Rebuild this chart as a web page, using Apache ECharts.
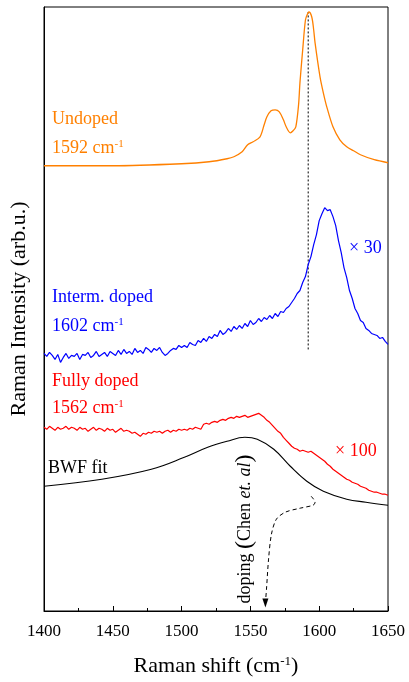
<!DOCTYPE html>
<html><head><meta charset="utf-8">
<script src="https://cdn.jsdelivr.net/npm/echarts@6/dist/echarts.min.js"></script>
<style>html,body{margin:0;padding:0;background:#fff}#c{width:409px;height:682px}</style>
</head><body><div id="c"></div>
<script>
// ---- data (x in cm^-1, y in arbitrary stacked units) ----
const undopedX = [1400,1450,1500,1520,1533,1538,1544,1548,1552,1557,1560,1562,1565,1568,1571,1574,1576,1579,1581,1583,1585,1586,1588,1590,1591.5,1592.5,1594.6,1596,1597,1600.6,1603,1605.5,1610,1615,1620,1625,1630,1640,1650];
const undopedY = [446,446,448,450,453,455,460,467,470,475,487,495,501,502,500,492,485,479,481,485,507,529,562,592,598,600,595,582,569,535,519,505,485,472,465,461,457,452,449];

const stepX = Array.from({length:126},(_,i)=>1400+2*i); // 1400..1650 sampled every 2 cm^-1
const intermY = [258,255,259,256,252,257,249,254,258,253,256,
 255,258,252,257,256,259,254,256,260,255,
 257,259,255,260,258,256,261,257,262,258,
 260,257,263,259,261,258,264,262,259,263,
 261,264,259,256,258,261,263,262,266,264,
 266,264,269,267,266,271,269,273,270,275,
 273,277,275,281,277,279,283,280,285,282,
 286,283,288,285,291,287,289,293,290,294,
 292,296,293,298,295,300,299,303,305,309,
 313,318,321,329,335,347,355,367,377,391,
 398,404,401,402,395,386,371,359,344,334,
 321,313,303,298,291,289,283,281,278,277,
 276,273,274,270,267];
const fullyY = [184,182,185,183,181,184,182,183,185,182,184,
 183,181,184,182,183,180,182,184,181,183,
 182,180,183,181,182,179,181,183,180,181,
 180,178,179,177,175,178,177,179,178,180,
 179,180,178,180,181,179,181,180,182,181,
 182,181,183,182,184,183,182,187,188,187,
 189,190,189,191,192,191,193,194,193,195,
 194,195,196,194,195,196,197,198,196,194,
 191,189,186,183,180,178,174,171,168,165,
 163,162,160,161,160,159,160,158,156,154,
 152,150,147,145,142,140,138,136,134,132,
 131,129,128,127,125,124,123,121,120,119,
 119,118,117,117,116];

const bwfX = [1400,1442,1478,1502,1519,1533,1546,1555,1567,1579,1591,1603,1620,1634,1650];
const bwfY = [125,132,142,154,164,170,174,172,162,145,130,120,112,109,106];

const refLineX = [1592,1592];
const refLineY = [262,600];

const arrowX = [1594.1,1597.0,1595.6,1586.2,1575.4,1568.9,1565.3,1563.2,1561.7,1560.9];
const arrowY = [115,109,106,103,99,92,77,52,22,8];

const xTicks = {min:1400,max:1650,interval:50};

const zip = (xs, ys) => xs.map((x,i)=>[x, ys[i]]);
const FONT = '"Liberation Serif","Times New Roman",serif';
const ORANGE = '#ff8000', BLUE = '#0000ff', RED = '#ff0000';

const chart = echarts.init(document.getElementById('c'), null, {renderer:'canvas'});
function label(text, x, y, color, size) {
  return {
    type: 'text', x: x, y: y, silent: true,
    style: {text: text, fill: color, fontFamily: FONT, fontSize: size, verticalAlign: 'middle', align: 'left',
      lineHeight: size,
      rich: {
        sup: {fontSize: Math.round(size*0.6), fontFamily: FONT, fill: color, verticalAlign: 'top', lineHeight: Math.round(size*0.45)}
      }}
  };
}

const arrowData = zip(arrowX, arrowY).map((p,i,a)=> i===a.length-1 ? {value:p, symbol:'triangle', symbolSize:[6,9], symbolRotate:180} : p);

chart.setOption({
  animation: false,
  backgroundColor: '#fff',
  grid: {left: 42, right: 21, top: 7, bottom: 70, show: true, borderColor: '#000', borderWidth: 1},
  xAxis: {
    type: 'value', min: xTicks.min, max: xTicks.max, interval: xTicks.interval,
    axisLine: {show: true, onZero: false, lineStyle: {color: '#000', width: 1}},
    axisTick: {show: true, inside: true, length: 5, lineStyle: {color: '#000'}},
    minorTick: {show: true, splitNumber: 2, length: 3, lineStyle: {color: '#000'}},
    splitLine: {show: false},
    axisLabel: {color: '#000', fontFamily: FONT, fontSize: 17, margin: 12, formatter: v => String(v)},
    name: 'Raman shift (cm{sup|-1})',
    nameLocation: 'middle', nameGap: 44,
    nameTextStyle: {color: '#000', fontFamily: FONT, fontSize: 22, lineHeight: 22,
      rich: {sup: {fontSize: 13, fontFamily: FONT, color: '#000', verticalAlign: 'top', lineHeight: 10}}}
  },
  yAxis: {
    type: 'value', min: 0, max: 605,
    axisLine: {show: true, lineStyle: {color: '#000'}},
    axisTick: {show: false}, axisLabel: {show: false}, splitLine: {show: false},
    name: 'Raman Intensity (arb.u.)', nameLocation: 'middle', nameGap: 14,
    nameTextStyle: {color: '#000', fontFamily: FONT, fontSize: 22}
  },
  series: [
    {type:'line', data: zip(undopedX, undopedY), showSymbol:false, smooth:0.3, lineStyle:{color:ORANGE, width:1.3}, z:3},
    {type:'line', data: zip(stepX, intermY), showSymbol:false, lineStyle:{color:BLUE, width:1.2}, z:3},
    {type:'line', data: zip(stepX, fullyY), showSymbol:false, lineStyle:{color:RED, width:1.2}, z:3},
    {type:'line', data: zip(bwfX, bwfY), showSymbol:false, smooth:0.4, lineStyle:{color:'#000', width:1.1}, z:3},
    {type:'line', data: zip(refLineX, refLineY), showSymbol:false, lineStyle:{color:'#000', width:1, type:[2,2]}, z:2},
    {type:'line', data: arrowData, symbol:'none', smooth:0.3, itemStyle:{color:'#000'},
      lineStyle:{color:'#000', width:1, type:[4,3]}, z:2}
  ],
  graphic: [
    label('Undoped', 52, 119, ORANGE, 18),
    label('1592 cm{sup|-1}', 52, 148, ORANGE, 18),
    label('Interm. doped', 52, 297, BLUE, 18),
    label('1602 cm{sup|-1}', 52, 326, BLUE, 18),
    label('\u00d7 30', 349, 248, BLUE, 18),
    label('Fully doped', 52, 381, RED, 18),
    label('1562 cm{sup|-1}', 52, 408, RED, 18),
    label('\u00d7 100', 335, 451, RED, 18),
    label('BWF fit', 48, 468, '#000', 18),
    {
      type: 'text', x: 245, y: 529, rotation: Math.PI/2, silent: true,
      style: {text: 'doping {p|(}Chen {i|et. al}{p|)}', fill: '#000', fontFamily: FONT, fontSize: 18,
        align: 'center', verticalAlign: 'middle',
        rich: {p: {fontSize: 24, fontFamily: FONT, fill: '#000'}, i: {fontStyle: 'italic', fontSize: 18, fontFamily: FONT, fill: '#000'}}}
    }
  ]
});
</script></body></html>
